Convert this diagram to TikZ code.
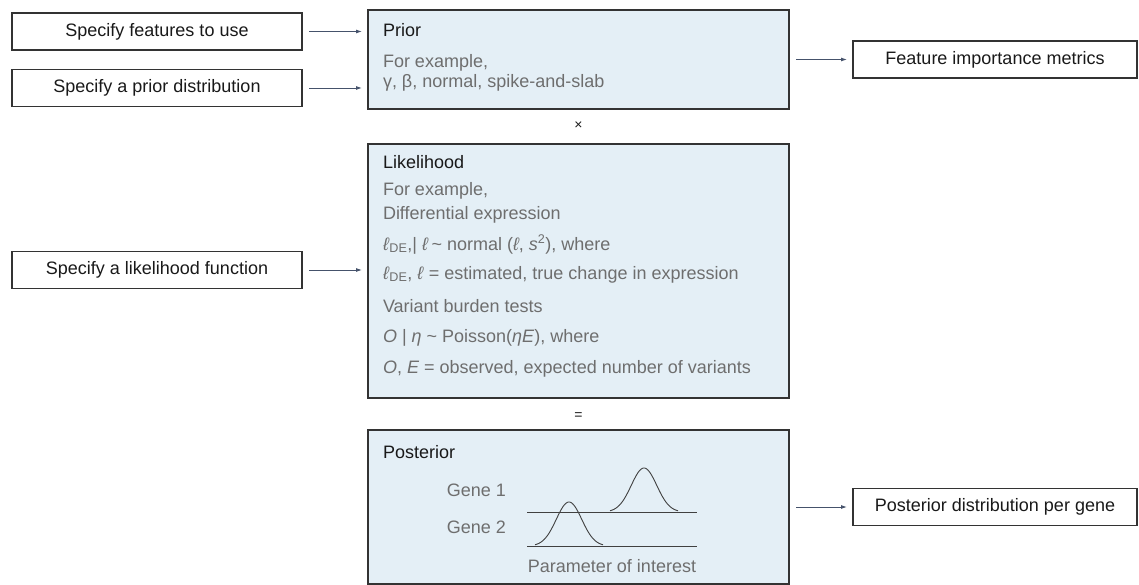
\documentclass[tikz,border=0pt]{standalone}
\usepackage{fontspec}
\setmainfont{Liberation Sans}
\usetikzlibrary{arrows.meta}
\definecolor{panelblue}{HTML}{E4EFF6}
\definecolor{bodygray}{HTML}{6E6E6E}
\definecolor{arrowblue}{HTML}{45526B}
\definecolor{edgegray}{HTML}{333333}

\begin{document}
\begin{tikzpicture}[x=1pt, y=-1pt,
  every node/.style={font=\fontsize{18}{20}\selectfont, inner sep=0pt, outer sep=0pt},
  askbox/.style={draw=edgegray, line width=1.1pt, minimum width=290pt, minimum height=37pt, text=black!90},
  outbox/.style={draw=edgegray, line width=1.1pt, minimum width=284pt, minimum height=37pt, text=black!90},
  panel/.style={draw=edgegray, line width=1.1pt, fill=panelblue, minimum width=421pt, anchor=north west},
  head/.style={anchor=base west, text=black!90},
  body/.style={anchor=base west, text=bodygray},
  sign/.style={font=\fontsize{14}{14}\selectfont, text=black!90},
  flow/.style={draw=arrowblue, line width=0.9pt, -{Latex[length=6pt,width=4pt]}, shorten <=7pt, shorten >=6pt},
  curve/.style={draw=black!75, line width=0.9pt}]
	\useasboundingbox (0,0) rectangle (1139,585);
	\node (feat)  at (157, 31.5) [askbox] {Specify features to use};
	\node (pdist) at (157, 88)   [askbox] {Specify a prior distribution};
	\node (lfun)  at (157, 270)  [askbox] {Specify a likelihood function};
	\node (prior) at (368, 10)  [panel, minimum height=99pt]  {};
	\node (lik)   at (368, 144) [panel, minimum height=254pt] {};
	\node (post)  at (368, 430) [panel, minimum height=154pt] {};
	\node (fimp)  at (995, 59.5)  [outbox] {Feature importance metrics};
	\node (pdpg)  at (995, 507)   [outbox] {Posterior distribution per gene};
	\node (times)  at (578.5, 126) [sign] {×};
	\node (equals) at (578.5, 416) [sign] {=};
	\draw [flow] (feat.east) -- (feat.east -| prior.west);
	\draw [flow] (pdist.east) -- (pdist.east -| prior.west);
	\draw [flow] (lfun.east) -- (lfun.east -| lik.west);
	\draw [flow] (prior.east) -- (fimp.west);
	\draw [flow] (post.east) -- (pdpg.west);
	\node (priorhead) at (383, 37) [head] {Prior};
	\node (priorex)   at (383, 68) [body] {For example,};
	\node (priorlist) at (383, 88) [body] {γ, β, normal, spike-and-slab};
	\node (likhead)  at (383, 169) [head] {Likelihood};
	\node (likex)    at (383, 196) [body] {For example,};
	\node (diffex)   at (383, 220) [body] {Differential expression};
	\node (demodel)  at (383, 250) [body] {\textit{ℓ}\textsubscript{DE},| \textit{ℓ}\,\textasciitilde{} normal (\textit{ℓ}, \textit{s}\textsuperscript{2}), where};
	\node (dedef)    at (383, 279) [body] {\textit{ℓ}\textsubscript{DE}, \textit{ℓ} = estimated, true change in expression};
	\node (burden)   at (383, 312) [body] {Variant burden tests};
	\node (bmodel)   at (383, 342) [body] {\textit{O} | \textit{η} \textasciitilde{} Poisson(\textit{ηE}), where};
	\node (bdef)     at (383, 373) [body] {\textit{O}, \textit{E} = observed, expected number of variants};
	\node (posthead) at (383, 458) [head] {Posterior};
	\node (gene1) at (506, 490) [anchor=east, text=bodygray] {Gene 1};
	\node (gene2) at (506, 527) [anchor=east, text=bodygray] {Gene 2};
	\node (param) at (612, 566) [text=bodygray] {Parameter of interest};
	\draw [curve] (527, 512) -- (697, 512);
	\draw [curve] (527, 546) -- (697, 546);
	\draw [curve] plot[domain=610:678, samples=60] (\x, {512-44*exp(-((\x-644)/18)*((\x-644)/18))});
	\draw [curve] plot[domain=535:603, samples=60] (\x, {546-44*exp(-((\x-569)/18)*((\x-569)/18))});
\end{tikzpicture}
\end{document}
